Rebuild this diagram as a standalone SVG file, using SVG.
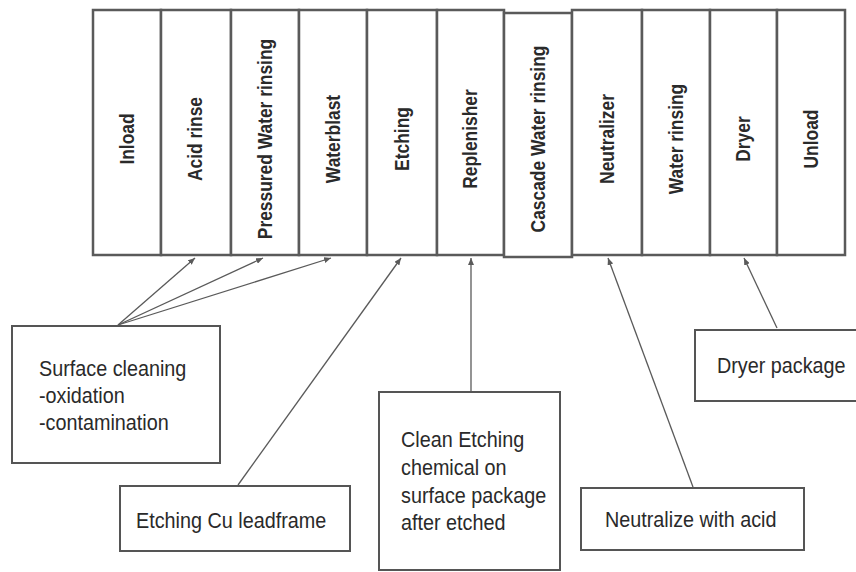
<svg xmlns="http://www.w3.org/2000/svg" width="856" height="572" viewBox="0 0 856 572">
<style>
.stage{fill:#fff;stroke:#5a5a5a;stroke-width:2.5}
.note{fill:#fff;stroke:#555;stroke-width:2}
.vt{font-family:"Liberation Sans",Arial,sans-serif;font-size:20px;font-weight:bold;fill:#2a2a2a;text-anchor:middle}
.nt{font-family:"Liberation Sans",Arial,sans-serif;font-size:22px;fill:#2a2a2a}
.con{fill:none;stroke:#5a5a5a;stroke-width:1.3;marker-end:url(#ah)}
</style>
<defs>
<marker id="ah" markerUnits="userSpaceOnUse" markerWidth="7" markerHeight="6" refX="7" refY="3" orient="auto">
<path d="M0,0 L7,3 L0,6 z" fill="#5a5a5a"/>
</marker>
</defs>
<rect width="856" height="572" fill="#fff"/>
<g id="inload"><rect class="stage" x="93" y="10" width="68" height="245"/><text class="vt" transform="translate(134,139) rotate(-90) scale(0.87,1)">Inload</text></g>
<g id="acid-rinse"><rect class="stage" x="161" y="10" width="70" height="245"/><text class="vt" transform="translate(202,139) rotate(-90) scale(0.87,1)">Acid rinse</text></g>
<g id="pressured-water-rinsing"><rect class="stage" x="231" y="10" width="68" height="245"/><text class="vt" transform="translate(272,139) rotate(-90) scale(0.87,1)">Pressured Water rinsing</text></g>
<g id="waterblast"><rect class="stage" x="299" y="10" width="68" height="245"/><text class="vt" transform="translate(340,139) rotate(-90) scale(0.87,1)">Waterblast</text></g>
<g id="etching"><rect class="stage" x="367" y="10" width="70" height="245"/><text class="vt" transform="translate(409,139) rotate(-90) scale(0.87,1)">Etching</text></g>
<g id="replenisher"><rect class="stage" x="437" y="10" width="67" height="245"/><text class="vt" transform="translate(477,139) rotate(-90) scale(0.87,1)">Replenisher</text></g>
<g id="cascade-water-rinsing"><rect class="stage" x="504" y="13" width="68" height="244"/><text class="vt" transform="translate(545,139) rotate(-90) scale(0.87,1)">Cascade Water rinsing</text></g>
<g id="neutralizer"><rect class="stage" x="572" y="10" width="70" height="245"/><text class="vt" transform="translate(614,139) rotate(-90) scale(0.87,1)">Neutralizer</text></g>
<g id="water-rinsing"><rect class="stage" x="642" y="10" width="68" height="245"/><text class="vt" transform="translate(683,139) rotate(-90) scale(0.87,1)">Water rinsing</text></g>
<g id="dryer"><rect class="stage" x="710" y="10" width="67" height="245"/><text class="vt" transform="translate(750,139) rotate(-90) scale(0.87,1)">Dryer</text></g>
<g id="unload"><rect class="stage" x="777" y="10" width="68" height="245"/><text class="vt" transform="translate(818,139) rotate(-90) scale(0.87,1)">Unload</text></g>

<g id="surface-cleaning"><rect class="note" x="12" y="326" width="208" height="137"/>
<text class="nt" transform="translate(39,376) scale(0.9,1)">Surface cleaning</text>
<text class="nt" transform="translate(39,403) scale(0.9,1)">-oxidation</text>
<text class="nt" transform="translate(39,430) scale(0.9,1)">-contamination</text></g>
<g id="etching-cu"><rect class="note" x="120" y="486" width="230" height="65"/>
<text class="nt" transform="translate(136,528) scale(0.9,1)">Etching Cu leadframe</text></g>
<g id="clean-etching"><rect class="note" x="379" y="392" width="181" height="178"/>
<text class="nt" transform="translate(401,447) scale(0.9,1)">Clean Etching</text>
<text class="nt" transform="translate(401,475) scale(0.9,1)">chemical on</text>
<text class="nt" transform="translate(401,503) scale(0.9,1)">surface package</text>
<text class="nt" transform="translate(401,530) scale(0.9,1)">after etched</text></g>
<g id="neutralize-acid"><rect class="note" x="581" y="488" width="223" height="62"/>
<text class="nt" transform="translate(605,527) scale(0.9,1)">Neutralize with acid</text></g>
<g id="dryer-package"><rect class="note" x="695" y="330" width="170" height="71"/>
<text class="nt" transform="translate(717,373) scale(0.9,1)">Dryer package</text></g>

<g id="connectors">
<line class="con" x1="118" y1="325" x2="195" y2="258"/>
<line class="con" x1="118" y1="325" x2="263" y2="258"/>
<line class="con" x1="118" y1="325" x2="331" y2="258"/>
<line class="con" x1="238" y1="485" x2="401" y2="258"/>
<line class="con" x1="471" y1="391" x2="471" y2="258"/>
<line class="con" x1="693" y1="487" x2="608" y2="258"/>
<line class="con" x1="777" y1="328" x2="744" y2="258"/>
</g>
</svg>
